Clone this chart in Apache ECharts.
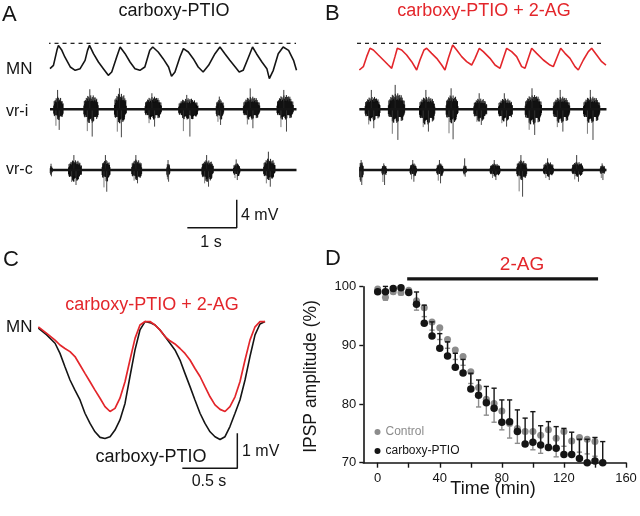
<!DOCTYPE html>
<html><head><meta charset="utf-8">
<script src="https://cdn.jsdelivr.net/npm/echarts@6/dist/echarts.min.js"></script>
<style>html,body{margin:0;padding:0;background:#fff}#c{width:640px;height:516px}</style>
</head><body><div id="c"></div>
<script>
// ================= DATA =================
// Panel A (carboxy-PTIO) : MN membrane potential (mV, relative to dashed reference), time in s
const MN_A_T = [0,0.07,0.14,0.17,0.24,0.30,0.41,0.51,0.61,0.71,0.76,0.80,0.88,0.98,1.08,1.18,1.25,1.35,1.42,1.52,1.62,1.72,1.82,1.92,2.02,2.08,2.19,2.29,2.40,2.46,2.53,2.63,2.70,2.80,2.90,3.00,3.10,3.21,3.34,3.44,3.54,3.64,3.75,3.83,3.91,4.02,4.10,4.18,4.29,4.39,4.44,4.52,4.62,4.72,4.83,4.93,4.99];
const MN_A_V = [-3.62,-3.14,-1.0,-0.29,-1.0,-1.95,-3.38,-3.86,-3.62,-2.43,-1.0,-0.29,-1.48,-2.67,-3.62,-4.57,-4.10,-1.95,-0.52,-1.48,-2.67,-3.62,-3.86,-3.38,-1.0,-0.52,-1.24,-2.19,-3.38,-4.71,-4.10,-1.95,-0.76,-1.24,-2.19,-3.38,-4.10,-3.14,-1.48,-0.52,-1.48,-2.43,-3.38,-4.10,-3.86,-1.95,-0.52,-1.48,-2.67,-3.62,-5.05,-3.86,-1.48,-0.52,-1.0,-2.43,-3.86];
// ventral-root bursts: [start s, end s, envelope up mV, envelope down mV, largest spike up mV, largest spike down mV]
const VRI_A_BURSTS = [[0.07,0.27,1.81,-1.52,2.76,-2.95],[0.68,0.98,2.05,-2.0,2.86,-3.90],[1.30,1.55,2.29,-2.0,3.0,-4.0],[1.92,2.26,1.81,-1.52,2.29,-2.48],[2.60,3.00,1.57,-1.52,2.05,-3.90],[3.36,3.52,1.43,-1.52,1.81,-2.24],[3.91,4.25,1.81,-1.52,2.98,-2.71],[4.59,4.93,2.05,-1.52,2.76,-3.19]];
const VRC_A_BURSTS = [[0.0,0.05,0.6,-0.7,0.9,-0.9],[0.37,0.64,1.43,-1.67,2.14,-2.14],[1.05,1.22,1.43,-1.67,2.14,-3.10],[1.65,1.86,1.52,-1.43,2.14,-1.90],[2.36,2.43,0.95,-1.19,1.43,-1.67],[3.07,3.31,1.43,-1.67,2.14,-2.38],[3.71,3.85,0.95,-0.95,1.52,-1.43],[4.32,4.56,1.67,-1.43,2.62,-2.38]];
const VR_A_SPAN = [0, 4.99];

// Panel B (carboxy-PTIO + 2-AG)
const MN_B_T = [0.047,0.128,0.196,0.263,0.331,0.432,0.533,0.634,0.702,0.769,0.816,0.904,1.005,1.107,1.208,1.275,1.356,1.410,1.511,1.613,1.714,1.781,1.849,1.937,2.018,2.119,2.220,2.321,2.389,2.476,2.557,2.692,2.794,2.895,2.962,3.030,3.131,3.232,3.333,3.401,3.468,3.536,3.637,3.772,3.907,3.974,4.042,4.123,4.211,4.312,4.413,4.480,4.582,4.683,4.750,4.852,4.953,5.040];
const MN_B_V = [-3.81,-3.33,-1.90,-0.71,-0.95,-1.67,-2.38,-3.10,-3.57,-1.90,-0.71,-0.95,-1.67,-2.62,-3.81,-2.38,-0.95,-0.71,-1.43,-2.14,-3.10,-3.81,-2.14,-0.24,-0.95,-1.90,-2.62,-3.10,-2.14,-0.71,-1.19,-2.14,-3.10,-3.57,-2.14,-0.71,-1.19,-1.90,-3.33,-3.57,-2.14,-0.71,-1.43,-2.38,-3.10,-3.33,-2.14,-0.71,-1.43,-2.14,-3.33,-3.81,-2.38,-1.19,-0.71,-1.67,-2.62,-3.10];
const VRI_B_BURSTS = [[0.16,0.47,1.81,-1.76,2.76,-2.71],[0.63,0.97,2.29,-2.0,3.48,-4.38],[1.26,1.58,1.81,-2.24,2.76,-3.19],[1.80,2.05,2.05,-2.0,3.0,-4.29],[2.36,2.63,1.57,-1.76,2.29,-2.24],[2.86,3.15,1.57,-1.76,2.29,-2.48],[3.40,3.74,2.05,-2.24,3.0,-3.67],[3.97,4.31,1.81,-2.0,2.76,-3.19],[4.58,4.92,1.81,-2.0,2.76,-4.38]];
const VRC_B_BURSTS = [[0.05,0.13,1.19,-1.9,1.43,-2.14],[0.50,0.60,0.71,-0.95,0.95,-2.14],[1.07,1.21,0.95,-0.95,1.43,-1.67],[1.61,1.75,0.95,-0.95,1.43,-1.9],[2.15,2.22,0.71,-0.71,1.67,-0.95],[2.69,2.90,0.95,-0.95,1.43,-1.43],[3.23,3.44,1.43,-1.43,2.14,-3.81],[3.77,3.98,1.19,-0.95,1.67,-1.43],[4.35,4.58,1.19,-0.95,2.14,-1.67],[4.92,5.02,0.71,-0.71,0.95,-1.43]];
const VR_B_SPAN = [0.047, 5.05];

// Panel C : averaged MN cycle (time s, mV)
const C_T = [0.003,0.079,0.155,0.2,0.245,0.291,0.336,0.382,0.427,0.473,0.518,0.564,0.609,0.655,0.7,0.745,0.791,0.836,0.882,0.927,0.973,1.018,1.064,1.109,1.155,1.2,1.245,1.291,1.336,1.382,1.427,1.473,1.518,1.564,1.609,1.655,1.7,1.745,1.791,1.836,1.882,1.927,1.973,2.018,2.064];
const C_PTIO = [-0.52,-0.71,-0.95,-1.24,-1.62,-2.0,-2.29,-2.57,-2.95,-3.24,-3.48,-3.64,-3.67,-3.62,-3.43,-3.14,-2.67,-1.90,-1.14,-0.57,-0.33,-0.36,-0.43,-0.57,-0.76,-0.95,-1.14,-1.43,-1.81,-2.19,-2.57,-2.95,-3.24,-3.48,-3.62,-3.70,-3.62,-3.33,-2.95,-2.57,-2.0,-1.33,-0.71,-0.40,-0.33];
const C_PTIO_2AG = [-0.48,-0.67,-0.86,-1.0,-1.10,-1.19,-1.33,-1.57,-1.81,-2.05,-2.29,-2.52,-2.76,-2.90,-2.81,-2.52,-2.05,-1.43,-0.81,-0.43,-0.33,-0.33,-0.43,-0.57,-0.76,-0.88,-0.97,-1.10,-1.24,-1.43,-1.67,-1.90,-2.19,-2.48,-2.71,-2.84,-2.90,-2.76,-2.48,-2.05,-1.43,-0.86,-0.48,-0.33,-0.33];

// Panel D : IPSP amplitude (%) vs time (min)
const D_TIME = [0,5,10,15,20,25,30,35,40,45,50,55,60,65,70,75,80,85,90,95,100,105,110,115,120,125,130,135,140,145];
const D_PTIO_MEAN = [99.15,99.15,99.7,99.8,99.0,97.0,93.75,91.6,89.5,88.2,86.25,85.3,82.55,81.5,80.2,79.3,76.9,77.0,75.3,73.2,73.5,73.0,72.6,72.45,71.4,71.4,70.7,70.0,70.3,70.0];
const D_PTIO_ERR = [0.3,0.9,0.3,0.3,0.5,2.1,3.1,2.4,2.5,2.4,2.4,2.3,2.7,2.6,2.8,3.4,3.8,3.7,3.7,4.4,5.2,3.3,4.4,3.7,4.45,3.8,3.3,4.0,4.0,3.6];
const D_CTRL_MEAN = [99.6,98.2,99.15,99.0,99.4,97.6,96.4,94.0,93.0,91.0,89.2,88.1,85.5,82.8,80.8,80.1,78.8,76.7,75.85,75.3,75.3,74.7,75.6,74.15,75.3,73.7,74.3,74.0,73.6];
const D_CTRL_ERR = [0.3,0.5,0.3,0.4,0.3,1.6,1.5,1.4,2.0,1.5,1.6,1.5,2.0,3.3,2.7,3.2,3.2,2.5,2.55,2.5,3.1,3.1,2.5,3.15,2.5,2.5,2.5,2.5,2.5];
const D_X_LABELS = [0,40,80,120,160];
const D_X_TICKS = [0,20,40,60,80,100,120,140,160];
const AG_PERIOD = [19, 142];
const AG_BAR_LEVEL = 101.35;

// ================= LAYOUT / STYLE =================
const FONT = '"Liberation Sans", Arial, Helvetica, sans-serif';
const RED = '#e3262b', BLK = '#151515', GRY = '#8c8c8c';
const A_DASH = -1.19, A_VRI = -10.61, A_VRC = -19.29;   // trace offsets in grid A/B (mV)
const A_SCALE = {t: 3.78, v: -27.53, dt: 1, dv: 4};
const C_SCALE = {t: 1.812, v: -4.523, dt: 0.5, dv: 1};

const zip = (a, b, off) => a.map((t, i) => [t, b[i] + (off || 0)]);
const TEX = [0.62,1,0.55,0.88,0.7,0.95,0.5,0.82,1,0.6,0.9,0.68,0.78,0.52,0.97,0.74,0.58,0.86];

function burstRender(base) {
  return function (params, api) {
    const t0 = api.value(0), t1 = api.value(1), up = api.value(2), dn = api.value(3), su = api.value(4), sd = api.value(5);
    const p0 = api.coord([t0, base]), p1 = api.coord([t1, base]);
    const ppm = api.size([0, 1])[1];
    const w = p1[0] - p0[0], by = p0[1];
    const n = Math.max(5, Math.round(w / 0.5));
    const ch = [];
    for (let i = 0; i < n; i++) {
      const f = (i + 0.5) / n;
      const env = Math.pow(Math.sin(Math.PI * f), 0.3);
      const x = p0[0] + f * w;
      const hu = up * env * TEX[i % TEX.length] * ppm;
      const hd = dn * env * TEX[(i * 7 + 3) % TEX.length] * ppm;
      ch.push({type: 'line', shape: {x1: x, y1: by - hu, x2: x, y2: by - hd}, style: {stroke: '#000', lineWidth: 0.9}});
    }
    // a dense core
    ch.push({type: 'rect', shape: {x: p0[0] + 0.12 * w, y: by - up * 0.55 * ppm, width: 0.76 * w, height: (up - dn) * 0.55 * ppm},
      style: {fill: '#111'}});
    const xs = p0[0] + 0.42 * w, xd = p0[0] + 0.58 * w, xm = p0[0] + 0.25 * w;
    ch.push({type: 'line', shape: {x1: xs, y1: by, x2: xs, y2: by - su * ppm}, style: {stroke: '#222', lineWidth: 0.9}});
    ch.push({type: 'line', shape: {x1: xd, y1: by, x2: xd, y2: by - sd * ppm}, style: {stroke: '#333', lineWidth: 0.9}});
    ch.push({type: 'line', shape: {x1: xm, y1: by, x2: xm, y2: by - 0.8 * sd * ppm}, style: {stroke: '#444', lineWidth: 0.7}});
    return {type: 'group', children: ch};
  };
}
function errRender(dir, color) {
  return function (params, api) {
    const x = api.value(0), m = api.value(1), e = api.value(2);
    const p = api.coord([x, m]), q = api.coord([x, m + dir * e]);
    return {type: 'group', children: [
      {type: 'line', shape: {x1: p[0], y1: p[1], x2: q[0], y2: q[1]}, style: {stroke: color, lineWidth: 1.4}},
      {type: 'line', shape: {x1: q[0] - 2.6, y1: q[1], x2: q[0] + 2.6, y2: q[1]}, style: {stroke: color, lineWidth: 1.4}}
    ]};
  };
}
const lineS = (xi, data, color, width, extra) => Object.assign({
  type: 'line', xAxisIndex: xi, yAxisIndex: xi, data: data, symbol: 'none', silent: true, animation: false,
  clip: false, lineStyle: {color: color, width: width}
}, extra || {});

function tracePanel(xi, mnT, mnV, mnColor, vriB, vrcB, span, dashSpan) {
  return [
    lineS(xi, [[dashSpan[0], A_DASH], [dashSpan[1], A_DASH]], BLK, 1.2, {lineStyle: {color: BLK, width: 1.2, type: [4, 4]}}),
    lineS(xi, zip(mnT, mnV, A_DASH), mnColor, 1.6),
    lineS(xi, [[span[0], A_VRI], [span[1], A_VRI]], BLK, 2.4),
    {type: 'custom', xAxisIndex: xi, yAxisIndex: xi, data: vriB, renderItem: burstRender(A_VRI), silent: true, animation: false, clip: false},
    lineS(xi, [[span[0], A_VRC], [span[1], A_VRC]], BLK, 2.4),
    {type: 'custom', xAxisIndex: xi, yAxisIndex: xi, data: vrcB, renderItem: burstRender(A_VRC), silent: true, animation: false, clip: false}
  ];
}

const series = [].concat(
  tracePanel(0, MN_A_T, MN_A_V, BLK, VRI_A_BURSTS, VRC_A_BURSTS, VR_A_SPAN, [-0.07, 4.98]),
  [lineS(0, [[A_SCALE.t - A_SCALE.dt, A_SCALE.v], [A_SCALE.t, A_SCALE.v], [A_SCALE.t, A_SCALE.v + A_SCALE.dv]], BLK, 1.5)],
  tracePanel(1, MN_B_T, MN_B_V, RED, VRI_B_BURSTS, VRC_B_BURSTS, VR_B_SPAN, [0, 5.02]),
  [
    lineS(2, zip(C_T, C_PTIO), BLK, 1.6),
    lineS(2, zip(C_T, C_PTIO_2AG), RED, 1.7),
    lineS(2, [[C_SCALE.t - C_SCALE.dt, C_SCALE.v], [C_SCALE.t, C_SCALE.v], [C_SCALE.t, C_SCALE.v + C_SCALE.dv]], BLK, 1.5),
    lineS(3, [[AG_PERIOD[0], AG_BAR_LEVEL], [AG_PERIOD[1], AG_BAR_LEVEL]], BLK, 3.3),
    {type: 'custom', xAxisIndex: 3, yAxisIndex: 3, data: D_CTRL_MEAN.map((m, i) => [D_TIME[i], m, D_CTRL_ERR[i]]),
      renderItem: errRender(-1, GRY), silent: true, animation: false, clip: false, z: 2},
    {type: 'scatter', name: 'Control', xAxisIndex: 3, yAxisIndex: 3, data: D_CTRL_MEAN.map((m, i) => [D_TIME[i], m]),
      symbolSize: 7, itemStyle: {color: GRY, opacity: 1}, clip: false, animation: false, z: 3},
    {type: 'custom', xAxisIndex: 3, yAxisIndex: 3, data: D_PTIO_MEAN.map((m, i) => [D_TIME[i], m, D_PTIO_ERR[i]]),
      renderItem: errRender(1, BLK), silent: true, animation: false, clip: false, z: 4},
    {type: 'scatter', name: 'carboxy-PTIO', xAxisIndex: 3, yAxisIndex: 3, data: D_PTIO_MEAN.map((m, i) => [D_TIME[i], m]),
      symbolSize: 7.5, itemStyle: {color: BLK, opacity: 1}, clip: false, animation: false, z: 5}
  ]
);

const hid = (gi, min, max) => ({gridIndex: gi, type: 'value', min: min, max: max, show: false});
const axLine = {show: true, onZero: false, lineStyle: {color: BLK, width: 1.6}};
const txt = (s, x, y, size, opts) => Object.assign({
  type: 'text', x: x, y: y, silent: true,
  style: Object.assign({text: s, font: size + 'px ' + FONT, fill: BLK, align: 'left', verticalAlign: 'middle'}, (opts && opts.style) || {})
}, opts && opts.rotation !== undefined ? {rotation: opts.rotation} : {});

const option = {
  backgroundColor: '#fff',
  animation: false,
  grid: [
    {left: 50, top: 35, width: 250, height: 210},
    {left: 357, top: 35, width: 250, height: 210},
    {left: 38, top: 310, width: 230, height: 150},
    {left: 363.3, top: 286.7, right: 14, bottom: 53.3}
  ],
  xAxis: [
    hid(0, 0, 250 / 49.4), hid(1, 0, 250 / 49.4), hid(2, 0, 230 / 110),
    {gridIndex: 3, type: 'value', min: -9.28, max: 160, axisLine: axLine,
      axisTick: {show: true, customValues: D_X_TICKS, length: 5, lineStyle: {color: BLK, width: 1.4}},
      axisLabel: {customValues: D_X_LABELS, fontSize: 13, fontFamily: FONT, color: BLK, margin: 9},
      splitLine: {show: false}}
  ],
  yAxis: [
    hid(0, -30, 0), hid(1, -30, 0), hid(2, -150 / 35, 0),
    {gridIndex: 3, type: 'value', min: 70, max: 100, interval: 10, axisLine: axLine,
      axisTick: {show: true, length: 4, lineStyle: {color: BLK, width: 1.4}},
      axisLabel: {fontSize: 13, fontFamily: FONT, color: BLK, margin: 7},
      splitLine: {show: false}}
  ],
  legend: {
    orient: 'vertical', left: 369.5, top: 421, itemWidth: 6, itemHeight: 6, itemGap: 7, selectedMode: false,
    textStyle: {fontSize: 12, fontFamily: FONT, color: BLK},
    data: [{name: 'Control', icon: 'circle', textStyle: {color: GRY}}, {name: 'carboxy-PTIO', icon: 'circle'}]
  },
  series: series,
  graphic: [
    txt('A', 2, 14.5, 22),
    txt('carboxy-PTIO', 174, 11.4, 18, {style: {align: 'center'}}),
    txt('MN', 6, 69.5, 17),
    txt('vr-i', 6, 111.4, 16),
    txt('vr-c', 6, 169.4, 16),
    txt('4 mV', 241, 215.4, 16),
    txt('1 s', 211, 242.4, 16, {style: {align: 'center'}}),
    txt('B', 325, 13.8, 22),
    txt('carboxy-PTIO + 2-AG', 484, 11, 18, {style: {align: 'center', fill: RED}}),
    txt('C', 3, 260.3, 22),
    txt('carboxy-PTIO + 2-AG', 152, 305.4, 18, {style: {align: 'center', fill: RED}}),
    txt('MN', 6, 327, 17),
    txt('carboxy-PTIO', 151, 457, 18, {style: {align: 'center'}}),
    txt('1 mV', 242, 451.1, 16),
    txt('0.5 s', 209, 481.4, 16, {style: {align: 'center'}}),
    txt('D', 325, 259.3, 22),
    txt('2-AG', 522, 265, 19, {style: {align: 'center', fill: RED}}),
    txt('Time (min)', 493, 489.5, 18, {style: {align: 'center'}}),
    txt('IPSP amplitude (%)', 311, 376.5, 17.5, {style: {align: 'center'}, rotation: Math.PI / 2})
  ]
};

const chart = echarts.init(document.getElementById('c'), null, {renderer: 'canvas', width: 640, height: 516});
chart.setOption(option);
</script>
</body></html>
